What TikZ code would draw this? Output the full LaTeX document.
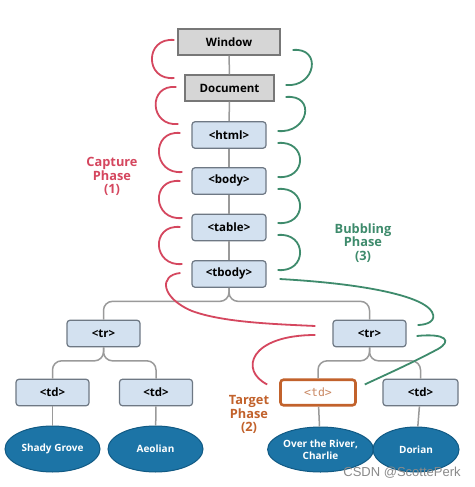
\documentclass[tikz,border=0pt]{standalone}
\usepackage{fontspec}
\setmainfont{Open Sans}
\newfontfamily\wmfont{Liberation Sans}
\newfontfamily\codefont{DejaVu Sans Mono}
\usetikzlibrary{calc,shapes.geometric}
\definecolor{boxgray}{HTML}{D6D6D6}
\definecolor{graydraw}{HTML}{777777}
\definecolor{boxblue}{HTML}{D3E1F0}
\definecolor{bluedraw}{HTML}{6E7884}
\definecolor{treegray}{HTML}{9A9A9A}
\definecolor{leaffill}{HTML}{1C74A6}
\definecolor{leafdraw}{HTML}{115A84}
\definecolor{capred}{HTML}{D5475F}
\definecolor{bubgreen}{HTML}{3E8B6C}
\definecolor{targetor}{HTML}{C2622C}
\definecolor{targettext}{HTML}{C98762}
\definecolor{wmgray}{HTML}{8A8A8A}
\begin{document}
\begin{tikzpicture}[x=1pt,y=-1pt,
  boxfont/.style={font=\fontsize{11.5}{13}\selectfont\bfseries},
  graybox/.style={draw=graydraw, fill=boxgray, line width=1.2pt, minimum height=26pt, inner sep=0pt, boxfont},
  bluebox/.style={draw=bluedraw, fill=boxblue, rounded corners=3pt, line width=1.2pt, minimum width=74pt, minimum height=26.5pt, inner sep=0pt, boxfont},
  targetbox/.style={draw=targetor, fill=white, rounded corners=3pt, line width=2.6pt, minimum width=75pt, minimum height=25.5pt, inner sep=0pt, text=targettext, font=\codefont\fontsize{11.5}{13}\selectfont},
  leaf/.style={ellipse, draw=leafdraw, fill=leaffill, line width=1pt, text=white, inner sep=0pt, align=center, font=\fontsize{10}{11.7}\selectfont\bfseries},
  tree/.style={draw=treegray, line width=1.5pt, rounded corners=9pt},
  capline/.style={draw=capred, line width=1.8pt},
  bubline/.style={draw=bubgreen, line width=1.8pt},
  phase/.style={align=center, font=\fontsize{12.8}{13.5}\selectfont\bfseries}
]
\useasboundingbox (0,0) rectangle (474,487);
\fill[white] (0,0) rectangle (474,487);

% main chain
\node[graybox, minimum width=102pt] (Window) at (229,42) {Window};
\node[graybox, minimum width=89pt] (Document) at (229.5,88) {Document};
\node[bluebox] (html) at (229,135) {<html>};
\node[bluebox] (body) at (229,181) {<body>};
\node[bluebox] (table) at (229,227.5) {<table>};
\node[bluebox] (tbody) at (229,274) {<tbody>};

% rows
\node[bluebox, minimum width=73pt] (tr1) at (103.5,333.5) {<tr>};
\node[bluebox, minimum width=73pt] (tr2) at (369.5,333.5) {<tr>};

% cells
\node[bluebox, minimum width=73pt] (td1) at (52.5,392.5) {<td>};
\node[bluebox, minimum width=73pt] (td2) at (156,392.5) {<td>};
\node[targetbox] (tdt) at (318,392.5) {<td>};
\node[bluebox, minimum width=75pt] (td4) at (420.5,392.5) {<td>};

% leaves
\node[leaf, minimum width=95pt, minimum height=46pt] (e1) at (52.5,449) {Shady Grove};
\node[leaf, minimum width=95pt, minimum height=46pt] (e2) at (155.5,449) {Aeolian};
\node[leaf, minimum width=84pt, minimum height=45pt] (e3) at (320.5,449.5) {Over the River,\\Charlie};
\node[leaf, minimum width=86pt, minimum height=45pt] (e4) at (416,449.5) {Dorian};

% tree edges
\draw[tree] (Window) -- (Document);
\draw[tree] (Document) -- (html);
\draw[tree] (html) -- (body);
\draw[tree] (body) -- (table);
\draw[tree] (table) -- (tbody);
\draw[tree] (tbody.south) -- ++(0,13.5) -| (tr1.north);
\draw[tree] (tbody.south) -- ++(0,13.5) -| (tr2.north);
\draw[tree] (tr1.south) -- ++(0,13.5) -| (td1.north);
\draw[tree] (tr1.south) -- ++(0,13.5) -| (td2.north);
\draw[tree] (tr2.south) -- ++(0,13.5) -| (tdt.north);
\draw[tree] (tr2.south) -- ++(0,13.5) -| (td4.north);
\draw[tree] (td1) -- (e1);
\draw[tree] (td2) -- (e2);
\draw[tree] (tdt) -- (e3);
\draw[tree] (td4) -- (e4);

% capture phase arcs (red)
\draw[capline] ($(Window.west)+(-3,-2)$) .. controls +(-30,-3) and +(-30,3) .. ($(Document.west)+(-10,-10)$);
\draw[capline] ($(Document.west)+(-8,-1)$) .. controls +(-29,-3) and +(-29,3) .. ($(html.west)+(-13,-11)$);
\draw[capline] ($(html.west)+(-11,-2)$) .. controls +(-30,-3) and +(-30,3) .. ($(body.west)+(-9,-9)$);
\draw[capline] ($(body.west)+(-11,0)$) .. controls +(-30,-3) and +(-30,3) .. ($(table.west)+(-9,-9.5)$);
\draw[capline] ($(table.west)+(-11,-0.5)$) .. controls +(-30,-3) and +(-30,3) .. ($(tbody.west)+(-9,-10)$);
\draw[capline] ($(tbody.west)+(-11,-1)$) .. controls +(-22,2) and (161,298) .. (192,311)
  .. controls (222,322) and (270,324) .. ($(tr2.west)+(-17,-7.5)$);
\draw[capline] ($(tr2.west)+(-17,1.5)$) .. controls +(-66,0) and +(-28,-14) .. ($(tdt.north west)+(-12,6)$);

% bubbling phase arcs (green)
\draw[bubline] ($(Window.east)+(12,8)$) .. controls +(30,-3) and +(30,3) .. ($(Document.east)+(11,-3)$);
\draw[bubline] ($(Document.east)+(11,9)$) .. controls +(31,-3) and +(31,3) .. ($(html.east)+(11,-4)$);
\draw[bubline] ($(html.east)+(11,8)$) .. controls +(30,-3) and +(30,3) .. ($(body.east)+(11,-4)$);
\draw[bubline] ($(body.east)+(11,8)$) .. controls +(30,-3) and +(30,3) .. ($(table.east)+(11,-4.5)$);
\draw[bubline] ($(table.east)+(11,7.5)$) .. controls +(30,-3) and +(30,3) .. ($(tbody.east)+(11,-4)$);
\draw[bubline] ($(tbody.east)+(13,5)$) .. controls +(90,5) and (424,297) .. (432,312)
  .. controls (437,321) and (427,325) .. ($(tr2.east)+(11,-8.5)$);
\draw[bubline] ($(tr2.east)+(10,2.5)$) .. controls +(30,-3) and (452,341) .. (438,349)
  .. controls (410,364) and (385,375) .. ($(tdt.north east)+(8,6)$);

% phase labels
\node[phase, text=capred] (caplabel) at (112,176.5) {Capture\\Phase\\(1)};
\node[phase, text=bubgreen] (bublabel) at (363,243) {Bubbling\\Phase\\(3)};
\node[phase, text=targetor] (tarlabel) at (249,414.5) {Target\\Phase\\(2)};

% watermark
\node[text=wmgray, font=\wmfont\fontsize{13}{15}\selectfont, inner sep=0pt] (wm) at (402,473) {CSDN @ScottePerk};
\end{tikzpicture}
\end{document}
